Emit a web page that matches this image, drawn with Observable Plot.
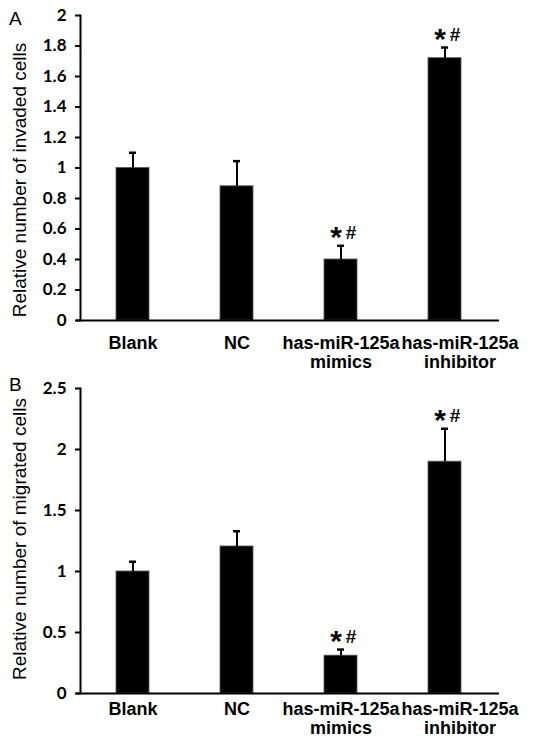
<!DOCTYPE html>
<html><head><meta charset="utf-8">
<script src="https://cdn.jsdelivr.net/npm/d3@7"></script>
<script src="https://cdn.jsdelivr.net/npm/@observablehq/plot@0.6"></script>
<style>
body{margin:0;background:#fff;}
#wrap{position:relative;width:533px;height:738px;background:#fff;}
.panel{position:absolute;left:0;}
.lab{position:absolute;font-family:"Liberation Sans",Arial,sans-serif;font-size:19px;color:#000;}
</style></head><body>
<div id="wrap">
  <div id="pa" class="panel" style="top:0px"></div>
  <div id="pb" class="panel" style="top:370px"></div>
  <div class="lab" style="left:9px;top:8px">A</div>
  <div class="lab" style="left:9px;top:374px">B</div>
</div>
<script>
const categories = ["Blank", "NC", "has-miR-125a mimics", "has-miR-125a inhibitor"];
const xLabels = ["Blank", "NC", "has-miR-125a\nmimics", "has-miR-125a\ninhibitor"];
const significant = [false, false, true, true];

const invadedMean = [1.00, 0.88, 0.40, 1.72];
const invadedErr  = [0.10, 0.165, 0.09, 0.07];
const invadedTicks = [0, 0.2, 0.4, 0.6, 0.8, 1, 1.2, 1.4, 1.6, 1.8, 2];
const invadedTitle = "Relative number of invaded cells";

const migratedMean = [1.00, 1.205, 0.31, 1.90];
const migratedErr  = [0.08, 0.125, 0.05, 0.27];
const migratedTicks = [0, 0.5, 1, 1.5, 2, 2.5];
const migratedTitle = "Relative number of migrated cells";

function panel({means, errs, ticks, title, height, marginTop, marginBottom, labelPad, titleDy}) {
  const data = categories.map((c, i) => ({cat: c, value: means[i], top: means[i] + errs[i], sig: significant[i]}));
  const sig = data.filter(d => d.sig);
  const labelOf = d => xLabels[categories.indexOf(d)];
  const xAxisStyle = {tickSize: 0, tickPadding: labelPad, tickFormat: labelOf, fontSize: 18, fontWeight: "bold",
    lineHeight: 1.06, label: null};
  return Plot.plot({
    width: 533, height,
    marginLeft: 80, marginRight: 36, marginTop, marginBottom,
    style: {fontFamily: "'Liberation Sans', Arial, sans-serif", background: "#fff", color: "#000", overflow: "visible"},
    x: {domain: categories, paddingInner: 0.68, paddingOuter: 0.34, align: 0.5},
    y: {domain: [ticks[0], ticks[ticks.length - 1]]},
    marks: [
      Plot.barY(data, {x: "cat", y: "value", fill: "#000", stroke: "#555", strokeWidth: 0.8}),
      Plot.ruleX(data, {x: "cat", y1: "value", y2: "top", stroke: "#000", strokeWidth: 2}),
      Plot.tickY(data, {x: "cat", y: "top", stroke: "#000", strokeWidth: 2.5, insetLeft: 13, insetRight: 13}),
      Plot.text(sig, {x: "cat", y: "top", text: () => "*", dx: -5, dy: -8, fontSize: 30, fontWeight: "bold", fill: "#000"}),
      Plot.text(sig, {x: "cat", y: "top", text: () => "#", dx: 10, dy: -13, fontSize: 19, fontWeight: "bold", fill: "#000"}),
      Plot.axisY({ticks, tickFormat: d => String(d), tickSize: 5, tickPadding: 9, strokeWidth: 2,
        fontSize: 17, fontWeight: "bold", fontFamily: "Lato, 'Liberation Sans', sans-serif", label: null}),
      Plot.text([title], {frameAnchor: "left", rotate: -90, dx: -61, dy: titleDy, textAnchor: "middle", fontSize: 19, fill: "#000"}),
      Plot.axisX(categories.slice(0, 3), xAxisStyle),
      Plot.axisX(categories.slice(3), {...xAxisStyle, dx: 15}),
      Plot.frame({anchor: "left", stroke: "#000", strokeWidth: 2}),
      Plot.ruleY([0], {stroke: "#000", strokeWidth: 2, insetLeft: -4, insetRight: -2})
    ]
  });
}

document.getElementById("pa").append(panel({means: invadedMean, errs: invadedErr, ticks: invadedTicks,
  title: invadedTitle, height: 370, marginTop: 15, marginBottom: 50, labelPad: 15, titleDy: 12}));
document.getElementById("pb").append(panel({means: migratedMean, errs: migratedErr, ticks: migratedTicks,
  title: migratedTitle, height: 368, marginTop: 18, marginBottom: 45, labelPad: 8, titleDy: -2}));
</script>
</body></html>
